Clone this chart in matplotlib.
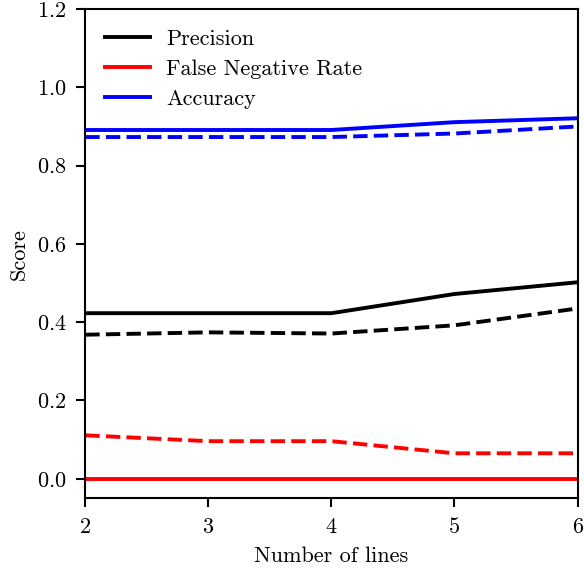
import matplotlib
matplotlib.use("Agg")
import matplotlib.pyplot as plt

plt.rcParams['font.family'] = 'cmr10'
plt.rcParams['mathtext.fontset'] = 'cm'
plt.rcParams['axes.formatter.use_mathtext'] = True
plt.rcParams['font.size'] = 16
plt.rcParams['axes.linewidth'] = 1.5
plt.rcParams['xtick.major.width'] = 1.5
plt.rcParams['ytick.major.width'] = 1.5
plt.rcParams['xtick.major.size'] = 6.5
plt.rcParams['ytick.major.size'] = 6.5
plt.rcParams['xtick.major.pad'] = 7
plt.rcParams['ytick.major.pad'] = 7

num_lines = [2, 3, 4, 5, 6]

precision = [0.423, 0.423, 0.423, 0.472, 0.502]
precision_dash = [0.368, 0.374, 0.371, 0.392, 0.435]
fnr = [0.0, 0.0, 0.0, 0.0, 0.0]
fnr_dash = [0.111, 0.096, 0.096, 0.065, 0.065]
accuracy = [0.891, 0.891, 0.891, 0.911, 0.921]
accuracy_dash = [0.873, 0.873, 0.873, 0.882, 0.900]

fig = plt.figure(figsize=(5.84, 5.72), dpi=100)
ax = fig.add_axes([0.146, 0.1288, 0.843, 0.8554])

lw = 2.8
ax.plot(num_lines, precision, color='black', lw=lw, label='Precision')
ax.plot(num_lines, fnr, color='red', lw=lw, label='False Negative Rate')
ax.plot(num_lines, accuracy, color='blue', lw=lw, label='Accuracy')
ax.plot(num_lines, precision_dash, color='black', lw=lw, ls='--')
ax.plot(num_lines, fnr_dash, color='red', lw=lw, ls='--')
ax.plot(num_lines, accuracy_dash, color='blue', lw=lw, ls='--')

ax.set_xlim(2, 6)
ax.set_ylim(-0.05, 1.2)
ax.set_xticks([2, 3, 4, 5, 6])
ax.set_yticks([0.0, 0.2, 0.4, 0.6, 0.8, 1.0, 1.2])
ax.set_xlabel('Number of lines', labelpad=7)
ax.set_ylabel('Score', labelpad=6)
ax.legend(loc='upper left', frameon=False, handlelength=2.0,
          labelspacing=0.47, handletextpad=0.75)

fig.savefig('out.png', dpi=100)
